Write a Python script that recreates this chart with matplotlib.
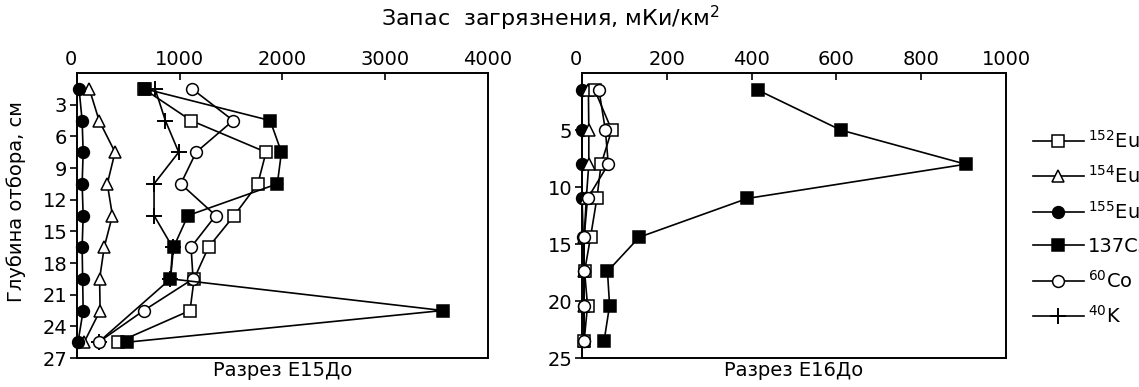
import numpy as np
import matplotlib.pyplot as plt

plt.rcParams['font.family'] = ['DejaVu Sans']

# depth of sampling, cm
depth_l = [1.5, 4.5, 7.5, 10.5, 13.5, 16.5, 19.5, 22.5, 25.5]
depth_l_k = [1.5, 4.5, 7.5, 10.5, 13.5, 16.5, 19.5, 25.5]
depth_r = [1.5, 5.0, 8.0, 11.0, 14.4, 17.4, 20.4, 23.5]

# section E15 (mCi/km2)
eu152_l = [650, 1110, 1840, 1760, 1530, 1280, 1140, 1100, 400]
eu154_l = [120, 215, 370, 295, 345, 265, 220, 225, 70]
eu155_l = [20, 50, 60, 50, 60, 50, 55, 60, 10]
cs137_l = [660, 1880, 1990, 1950, 1080, 940, 910, 3560, 490]
co60_l = [1120, 1520, 1160, 1010, 1350, 1110, 1130, 650, 210]
k40_l = [760, 860, 990, 750, 750, 930, 910, 210]

# section E16
eu152_r = [30, 70, 45, 35, 20, 6, 13, 5]
eu154_r = [15, 16, 16, 10, 5, 5, 5, 5]
eu155_r = [0, 0, 0, 0, 3, 5, 5, 5]
cs137_r = [415, 610, 905, 390, 135, 60, 65, 52]
co60_r = [40, 55, 62, 13, 5, 5, 4, 5]

labels = ['$^{152}$Eu', '$^{154}$Eu', '$^{155}$Eu', '137Cs', '$^{60}$Co', '$^{40}$K']

ms = 8.5
lw = 1.2
st = dict(color='black', lw=lw, ms=ms, mew=1.1, clip_on=False)

fig = plt.figure(figsize=(11.39, 3.87), dpi=100)
ax1 = fig.add_axes([0.0676, 0.0749, 0.3608, 0.7364])
ax2 = fig.add_axes([0.511, 0.0749, 0.3723, 0.7364])

def style(ax, xmax, xticks, ymax, yticks):
    ax.set_xlim(0, xmax)
    ax.set_ylim(ymax, 0)
    ax.xaxis.tick_top()
    ax.set_xticks(xticks)
    ax.set_yticks(yticks)
    ax.tick_params(axis='x', direction='in', length=5, width=1.2, labelsize=14, pad=3)
    ax.tick_params(axis='y', direction='out', length=5, width=1.2, labelsize=14, pad=2)
    lab = ax.get_xticklabels()
    lab[0].set_horizontalalignment('right')
    for s in ax.spines.values():
        s.set_linewidth(1.4)

h = []
h += ax1.plot(eu152_l, depth_l, marker='s', mfc='white', mec='black', label=labels[0], zorder=3, **st)
h += ax1.plot(eu154_l, depth_l, marker='^', mfc='white', mec='black', label=labels[1], zorder=3, **st)
h += ax1.plot(eu155_l, depth_l, marker='o', mfc='black', mec='black', label=labels[2], zorder=3, **st)
h += ax1.plot(cs137_l, depth_l, marker='s', mfc='black', mec='black', label=labels[3], zorder=4, **st)
h += ax1.plot(co60_l, depth_l, marker='o', mfc='white', mec='black', label=labels[4], zorder=3, **st)
h += ax1.plot(k40_l, depth_l_k, marker='+', mfc='black', mec='black', label=labels[5], zorder=2,
              color='black', lw=lw, ms=11, mew=1.4, clip_on=False)
style(ax1, 4000, [0, 1000, 2000, 3000, 4000], 27, [3, 6, 9, 12, 15, 18, 21, 24, 27])
ax1.set_ylabel('Глубина отбора, см', fontsize=14)
ax1.yaxis.set_label_coords(-0.125, 0.55)
ax1.set_xlabel('Разрез Е15До', fontsize=14, labelpad=2)
ax1.xaxis.set_label_position('bottom')

ax2.plot(eu155_r, depth_r, marker='o', mfc='black', mec='black', zorder=3, **st)
ax2.plot(eu154_r, depth_r, marker='^', mfc='white', mec='black', zorder=3, **st)
ax2.plot(eu152_r, depth_r, marker='s', mfc='white', mec='black', zorder=3, **st)
ax2.plot(co60_r, depth_r, marker='o', mfc='white', mec='black', zorder=3, **st)
ax2.plot(cs137_r, depth_r, marker='s', mfc='black', mec='black', zorder=4, **st)
style(ax2, 1000, [0, 200, 400, 600, 800, 1000], 25, [5, 10, 15, 20, 25])
ax2.set_xlabel('Разрез Е16До', fontsize=14, labelpad=2)
ax2.xaxis.set_label_position('bottom')

fig.text(0.483, 0.952, 'Запас  загрязнения, мКи/км$^2$', ha='center', va='center', fontsize=16)

fig.legend(handles=h, labels=labels, loc='upper left', bbox_to_anchor=(0.907, 0.665),
           frameon=False, fontsize=14, handlelength=2.6, handletextpad=0.2,
           labelspacing=0.71, borderaxespad=0, borderpad=0)

fig.savefig('out.png', dpi=100)
